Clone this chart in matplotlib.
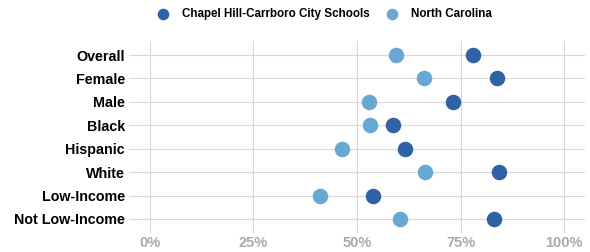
import numpy as np
import matplotlib.pyplot as plt

# groups, top to bottom
groups = ["Overall", "Female", "Male", "Black", "Hispanic", "White",
          "Low-Income", "Not Low-Income"]
district = [78.1, 83.7, 73.1, 58.7, 61.6, 84.3, 53.8, 83.1]
state = [59.5, 66.1, 52.8, 53.1, 46.4, 66.4, 41.1, 60.4]
series_names = ["Chapel Hill-Carrboro City Schools", "North Carolina"]
xticks = [0, 25, 50, 75, 100]

dark = "#2F63A6"
light = "#69A8D3"

plt.rcParams['font.family'] = ['Liberation Sans', 'DejaVu Sans']

fig = plt.figure(figsize=(5.9, 2.52), dpi=100)
ax = fig.add_axes([129 / 590, 1 - 233 / 252, (585 - 129) / 590, (233 - 41) / 252])

y = np.arange(len(groups))[::-1] + 1

ax.scatter(state, y, s=125, color=light, zorder=3, linewidths=0, label=series_names[1])
ax.scatter(district, y, s=125, color=dark, zorder=3, linewidths=0, label=series_names[0])

ax.set_xlim(-5, 105)
ax.set_ylim(0.4, len(groups) + 0.6)
ax.set_yticks(y)
ax.set_yticklabels(groups, fontsize=10.3, fontweight='bold', color='black')
ax.set_xticks(xticks)
ax.set_xticklabels([f"{t}%" for t in xticks], fontsize=10.5, fontweight='bold', color='#AAAAAA')
ax.tick_params(length=0, pad=2)
ax.tick_params(axis='y', pad=3)
ax.grid(True, color='#D9D9D9', linewidth=0.8)
ax.set_axisbelow(True)
for s in ax.spines.values():
    s.set_visible(False)

handles, labels = ax.get_legend_handles_labels()
fig.legend(handles[::-1], labels[::-1], loc='center', bbox_to_anchor=(0.545, 1 - 14 / 252),
           ncol=2, frameon=False, prop={'weight': 'bold', 'size': 8.4},
           handletextpad=0.6, columnspacing=0.9, markerscale=0.75)

fig.savefig("out.png", dpi=100)
